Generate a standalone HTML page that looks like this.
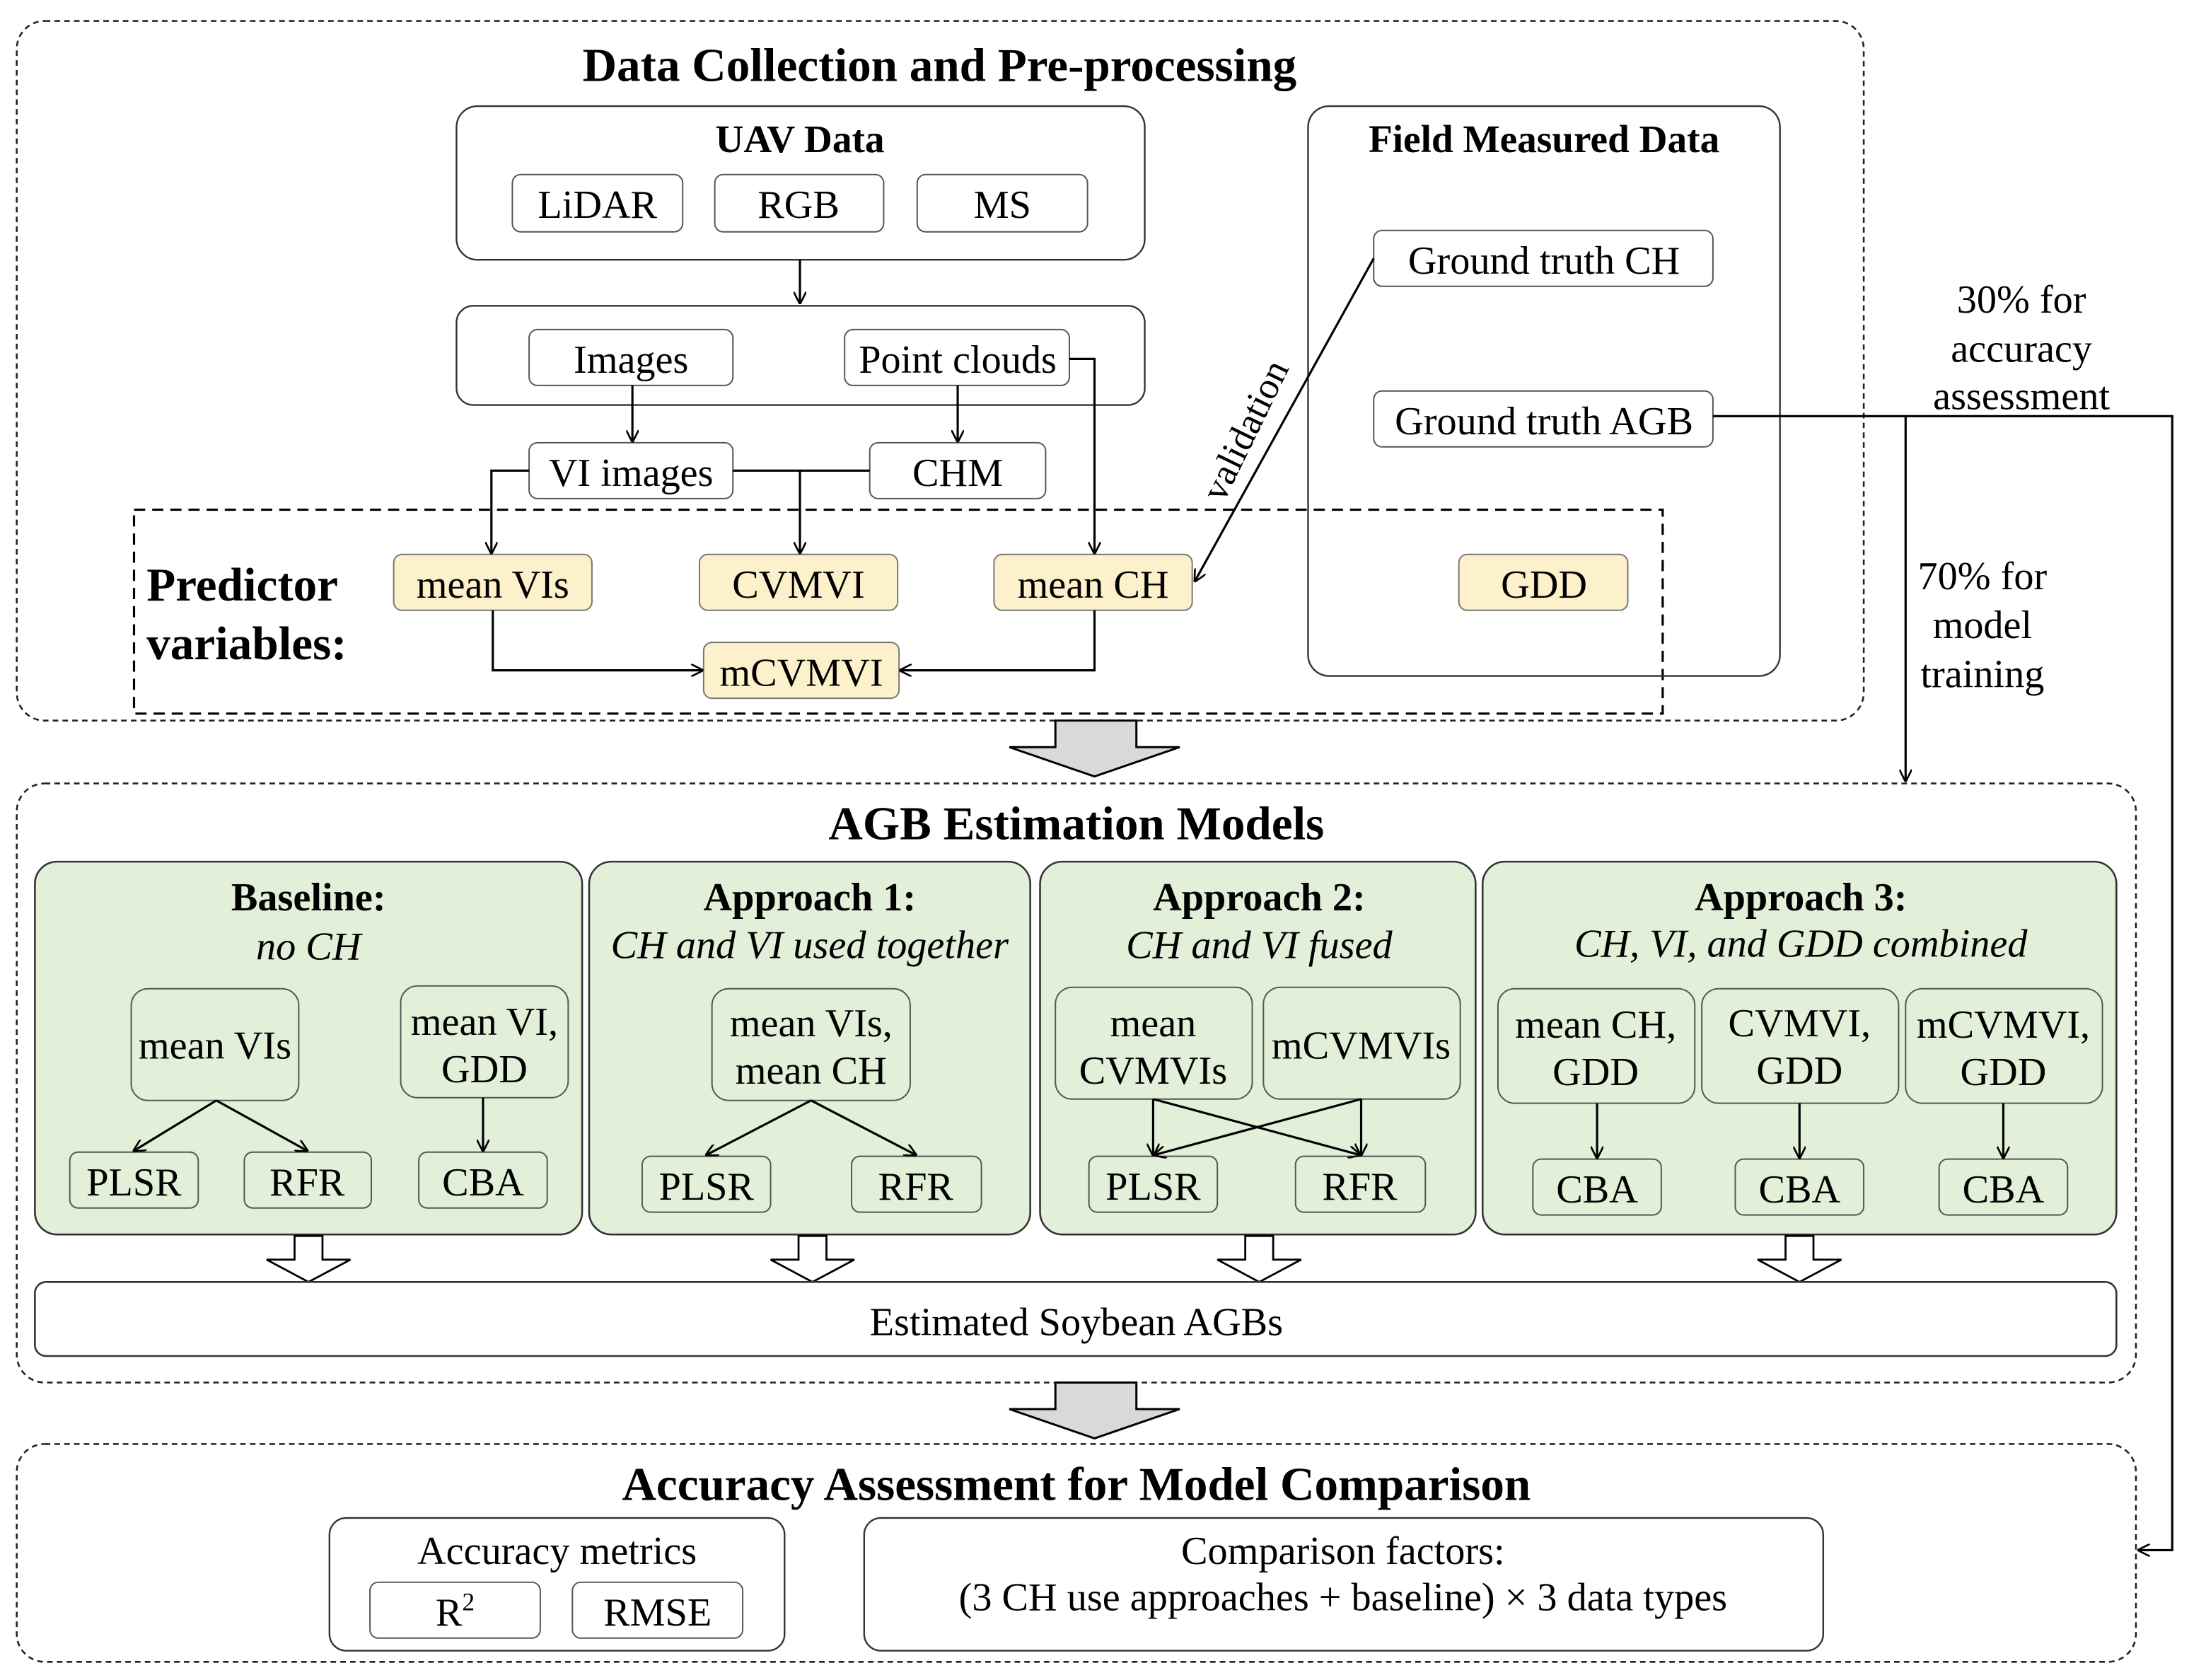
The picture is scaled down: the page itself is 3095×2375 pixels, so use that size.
<!DOCTYPE html>
<html><head><meta charset="utf-8"><style>html,body{margin:0;padding:0;background:#fff}svg{display:block}</style></head>
<body>
<svg width="3095" height="2375" viewBox="0 0 1568 1203" preserveAspectRatio="none" xmlns="http://www.w3.org/2000/svg" font-family="'Liberation Serif', serif">
<defs>
<marker id="a" viewBox="0 0 10 10" refX="9" refY="5" markerWidth="9" markerHeight="9" orient="auto" markerUnits="userSpaceOnUse"><path d="M0,0 L10,5 L0,10" fill="none" stroke="#000" stroke-width="1.5"/></marker>
</defs>
<g fill="none" stroke="#222" stroke-width="1.3" stroke-dasharray="4,3">
<rect x="12" y="15" width="1323" height="501" rx="20"/>
<rect x="12" y="561" width="1518" height="429" rx="20"/>
<rect x="12" y="1034" width="1518" height="156" rx="20"/>
</g>
<rect x="96" y="365" width="1095" height="146" fill="none" stroke="#000" stroke-width="1.6" stroke-dasharray="8,5"/>
<g font-weight="bold" font-size="34" text-anchor="middle" fill="#000">
<text x="673" y="58">Data Collection and Pre-processing</text>
<text x="771" y="601">AGB Estimation Models</text>
<text x="771" y="1074">Accuracy Assessment for Model Comparison</text>
</g>
<g fill="none" stroke="#333" stroke-width="1.2">
<rect x="327" y="76" width="493" height="110" rx="15"/>
<rect x="327" y="219" width="493" height="71" rx="12"/>
<rect x="937" y="76" width="338" height="408" rx="15"/>
</g>
<g font-weight="bold" font-size="28" text-anchor="middle">
<text x="573" y="109">UAV Data</text>
<text x="1106" y="109">Field Measured Data</text>
</g>
<g fill="#fff" stroke="#555" stroke-width="1">
<rect x="367" y="125" width="122" height="41" rx="6"/>
<rect x="512" y="125" width="121" height="41" rx="6"/>
<rect x="657" y="125" width="122" height="41" rx="6"/>
<rect x="379" y="236" width="146" height="40" rx="6"/>
<rect x="605" y="236" width="161" height="40" rx="6"/>
<rect x="379" y="317" width="146" height="40" rx="6"/>
<rect x="623" y="317" width="126" height="40" rx="6"/>
<rect x="984" y="165" width="243" height="40" rx="6"/>
<rect x="984" y="280" width="243" height="40" rx="6"/>
</g>
<g fill="#fdf1cc" stroke="#777" stroke-width="1">
<rect x="282" y="397" width="142" height="40" rx="6"/>
<rect x="501" y="397" width="142" height="40" rx="6"/>
<rect x="712" y="397" width="142" height="40" rx="6"/>
<rect x="1045" y="397" width="121" height="40" rx="6"/>
<rect x="504" y="460" width="140" height="40" rx="6"/>
</g>
<g font-size="28.5" text-anchor="middle">
<text x="428" y="156">LiDAR</text><text x="572" y="156">RGB</text><text x="718" y="156">MS</text>
<text x="452" y="267">Images</text><text x="686" y="267">Point clouds</text>
<text x="452" y="348">VI images</text><text x="686" y="348">CHM</text>
<text x="1106" y="196">Ground truth CH</text><text x="1106" y="311">Ground truth AGB</text>
<text x="353" y="428">mean VIs</text><text x="572" y="428">CVMVI</text><text x="783" y="428">mean CH</text><text x="1106" y="428">GDD</text>
<text x="574" y="491">mCVMVI</text>
<text x="1448" y="224">30% for</text><text x="1448" y="259">accuracy</text><text x="1448" y="293">assessment</text>
<text x="1420" y="422">70% for</text><text x="1420" y="457">model</text><text x="1420" y="492">training</text>
</g>
<g font-weight="bold" font-size="34">
<text x="105" y="430">Predictor</text><text x="105" y="472">variables:</text>
</g>
<text x="900" y="312" font-size="27" text-anchor="middle" transform="rotate(-64 900 312)">validation</text>
<g fill="none" stroke="#000" stroke-width="1.6" marker-end="url(#a)">
<path d="M573,186 V217"/>
<path d="M453,276 V316"/>
<path d="M686,276 V316"/>
<path d="M379,337 H352 V396"/>
<path d="M525,337 H623 M573,337 V396"/>
<path d="M766,257 H784 V396"/>
<path d="M353,437 V480 H503"/>
<path d="M784,437 V480 H645"/>
<path d="M984,185 L856,416"/>
<path d="M1227,298 H1556 V1110 H1532"/>
<path d="M1365,298 V559"/>
</g>
<path d="M756,516 H814 V535 H845 L784,556 L723,535 H756 Z" fill="#d9d9d9" stroke="#000" stroke-width="1.5"/>
<path d="M756,990 H814 V1009 H845 L784,1030 L723,1009 H756 Z" fill="#d9d9d9" stroke="#000" stroke-width="1.5"/>
<g fill="#e2efd9" stroke="#333" stroke-width="1.3">
<rect x="25" y="617" width="392" height="267" rx="16"/>
<rect x="422" y="617" width="316" height="267" rx="16"/>
<rect x="745" y="617" width="312" height="267" rx="16"/>
<rect x="1062" y="617" width="454" height="267" rx="16"/>
</g>
<g fill="none" stroke="#555" stroke-width="1">
<rect x="94" y="708" width="120" height="80" rx="12"/>
<rect x="287" y="706" width="120" height="80" rx="12"/>
<rect x="50" y="825" width="92" height="40" rx="6"/><rect x="175" y="825" width="91" height="40" rx="6"/><rect x="300" y="825" width="92" height="40" rx="6"/>
<rect x="510" y="708" width="142" height="80" rx="12"/>
<rect x="460" y="828" width="92" height="40" rx="6"/><rect x="610" y="828" width="93" height="40" rx="6"/>
<rect x="756" y="707" width="141" height="80" rx="12"/><rect x="905" y="707" width="141" height="80" rx="12"/>
<rect x="780" y="828" width="92" height="40" rx="6"/><rect x="928" y="828" width="93" height="40" rx="6"/>
<rect x="1073" y="708" width="141" height="82" rx="12"/><rect x="1219" y="708" width="141" height="82" rx="12"/><rect x="1365" y="708" width="141" height="82" rx="12"/>
<rect x="1098" y="830" width="92" height="40" rx="6"/><rect x="1243" y="830" width="92" height="40" rx="6"/><rect x="1389" y="830" width="92" height="40" rx="6"/>
</g>
<g font-size="28.5" text-anchor="middle">
<text x="221" y="652" font-weight="bold">Baseline:</text><text x="221" y="687" font-style="italic">no CH</text>
<text x="580" y="652" font-weight="bold">Approach 1:</text><text x="580" y="686" font-style="italic">CH and VI used together</text>
<text x="902" y="652" font-weight="bold">Approach 2:</text><text x="902" y="686" font-style="italic">CH and VI fused</text>
<text x="1290" y="652" font-weight="bold">Approach 3:</text><text x="1290" y="685" font-style="italic">CH, VI, and GDD combined</text>
</g>
<g font-size="28.5" text-anchor="middle">
<text x="154" y="758">mean VIs</text>
<text x="347" y="741">mean VI,</text><text x="347" y="775">GDD</text>
<text x="96" y="856">PLSR</text><text x="220" y="856">RFR</text><text x="346" y="856">CBA</text>
<text x="581" y="742">mean VIs,</text><text x="581" y="776">mean CH</text>
<text x="506" y="859">PLSR</text><text x="656" y="859">RFR</text>
<text x="826" y="742">mean</text><text x="826" y="776">CVMVIs</text><text x="975" y="758">mCVMVIs</text>
<text x="826" y="859">PLSR</text><text x="974" y="859">RFR</text>
<text x="1143" y="743">mean CH,</text><text x="1143" y="777">GDD</text>
<text x="1289" y="742">CVMVI,</text><text x="1289" y="776">GDD</text>
<text x="1435" y="743">mCVMVI,</text><text x="1435" y="777">GDD</text>
<text x="1144" y="861">CBA</text><text x="1289" y="861">CBA</text><text x="1435" y="861">CBA</text>
</g>
<g fill="none" stroke="#000" stroke-width="1.6" marker-end="url(#a)">
<path d="M155,788 L96,824"/><path d="M155,788 L220,824"/><path d="M346,786 V824"/>
<path d="M581,788 L506,827"/><path d="M581,788 L656,827"/>
<path d="M826,787 V827"/><path d="M975,787 V827"/><path d="M826,787 L974,827"/><path d="M975,787 L827,827"/>
<path d="M1144,790 V829"/><path d="M1289,790 V829"/><path d="M1435,790 V829"/>
</g>
<g fill="#fff" stroke="#000" stroke-width="1.4">
<path d="M211,885 H231 V902 H251 L221,918 L191,902 H211 Z"/>
<path d="M572,885 H592 V902 H612 L582,918 L552,902 H572 Z"/>
<path d="M892,885 H912 V902 H932 L902,918 L872,902 H892 Z"/>
<path d="M1279,885 H1299 V902 H1319 L1289,918 L1259,902 H1279 Z"/>
</g>
<rect x="25" y="918" width="1491" height="53" rx="8" fill="#fff" stroke="#333" stroke-width="1.3"/>
<text x="771" y="956" font-size="28.5" text-anchor="middle">Estimated Soybean AGBs</text>
<g fill="none" stroke="#333" stroke-width="1.2">
<rect x="236" y="1087" width="326" height="95" rx="12"/>
<rect x="619" y="1087" width="687" height="95" rx="12"/>
</g>
<g fill="#fff" stroke="#555" stroke-width="1">
<rect x="265" y="1133" width="122" height="40" rx="6"/><rect x="410" y="1133" width="122" height="40" rx="6"/>
</g>
<g font-size="28.5" text-anchor="middle">
<text x="399" y="1120">Accuracy metrics</text>
<text x="326" y="1164">R<tspan font-size="18" dy="-11">2</tspan></text>
<text x="471" y="1164">RMSE</text>
<text x="962" y="1120">Comparison factors:</text>
<text x="962" y="1153">(3 CH use approaches + baseline) × 3 data types</text>
</g>
</svg>
</body></html>
